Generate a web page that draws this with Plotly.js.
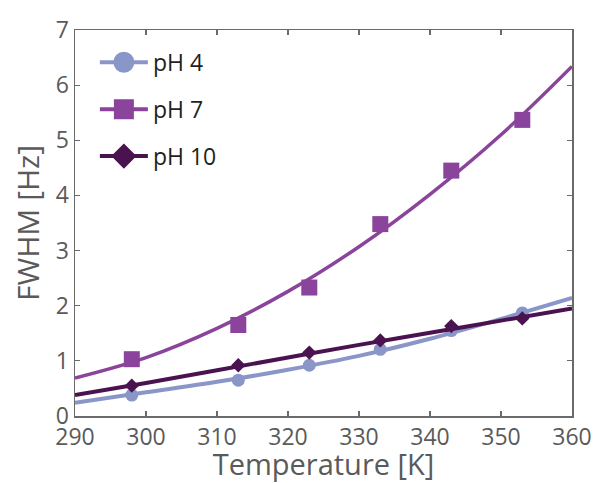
<!DOCTYPE html>
<html>
<head>
<meta charset="utf-8">
<script src="https://cdn.plot.ly/plotly-3.0.1.min.js"></script>
<style>html,body{margin:0;padding:0;background:#fff}#chart{width:601px;height:483px}</style>
</head>
<body>
<div id="chart"></div>
<script>
// Measured points
var tempPts = [298, 313, 323, 333, 343, 353];
var ph4Pts = [0.38, 0.65, 0.92, 1.21, 1.55, 1.87];
var ph7Pts = [1.03, 1.65, 2.33, 3.48, 4.45, 5.37];
var ph10Pts = [0.55, 0.92, 1.15, 1.37, 1.63, 1.77];

// Fit curves
var fitTemp = [290, 300, 310, 320, 330, 340, 350, 360];
var ph4Fit = [0.24, 0.43, 0.62, 0.84, 1.09, 1.40, 1.76, 2.14];
var ph7Fit = [0.69, 1.06, 1.59, 2.26, 3.07, 4.02, 5.10, 6.34];
var ph10Fit = [0.38, 0.60, 0.83, 1.06, 1.29, 1.51, 1.73, 1.95];

var seriesNames = ['pH 4', 'pH 7', 'pH 10'];
var xTicks = [290, 300, 310, 320, 330, 340, 350, 360];
var yTicks = [0, 1, 2, 3, 4, 5, 6, 7];

var c4 = '#8b96c8', c7 = '#8a449c', c10 = '#4b1250';

var traces = [
  {x: fitTemp, y: ph4Fit, mode: 'lines', line: {color: c4, width: 4, shape: 'spline'}, showlegend: false, hoverinfo: 'skip'},
  {x: tempPts, y: ph4Pts, mode: 'markers', marker: {color: c4, size: 13, symbol: 'circle'}, showlegend: false},
  {x: fitTemp, y: ph10Fit, mode: 'lines', line: {color: c10, width: 4, shape: 'spline'}, showlegend: false, hoverinfo: 'skip'},
  {x: tempPts, y: ph10Pts, mode: 'markers', marker: {color: c10, size: 11, symbol: 'diamond'}, showlegend: false},
  {x: fitTemp, y: ph7Fit, mode: 'lines', line: {color: c7, width: 3.5, shape: 'spline'}, showlegend: false, hoverinfo: 'skip'},
  {x: tempPts, y: ph7Pts, mode: 'markers', marker: {color: c7, size: 16, symbol: 'square'}, showlegend: false},
  // legend-only entries
  {x: [null], y: [null], name: seriesNames[0], legendgroup: 'a', mode: 'lines+markers', line: {color: c4, width: 4}, marker: {color: c4, size: 16, symbol: 'circle', line: {color: c4, width: 5}}},
  {x: [null], y: [null], name: seriesNames[1], legendgroup: 'b', mode: 'lines+markers', line: {color: c7, width: 4}, marker: {color: c7, size: 16, symbol: 'square', line: {color: c7, width: 4}}},
  {x: [null], y: [null], name: seriesNames[2], legendgroup: 'c', mode: 'lines+markers', line: {color: c10, width: 4}, marker: {color: c10, size: 15, symbol: 'diamond', line: {color: c10, width: 4}}}
];

var axCommon = {
  showgrid: false, zeroline: false, showline: true, linecolor: '#6a6a6a', linewidth: 1.5,
  ticks: 'inside', ticklen: 5, tickwidth: 1.2, tickcolor: '#6a6a6a', mirror: 'ticks',
  tickfont: {family: 'Open Sans', size: 23, color: '#5a5a5a'}
};

var layout = {
  width: 601, height: 483,
  margin: {l: 75, r: 29, t: 30, b: 67},
  paper_bgcolor: '#fff', plot_bgcolor: '#fff',
  font: {family: 'Open Sans'},
  xaxis: Object.assign({}, axCommon, {
    range: [290, 360], tickvals: xTicks, ticktext: xTicks.map(String),
    title: {text: 'Temperature [K]', font: {family: 'Open Sans', size: 29, color: '#5a5a5a'}, standoff: 5}
  }),
  yaxis: Object.assign({}, axCommon, {
    range: [0, 7], tickvals: yTicks, ticktext: yTicks.map(String),
    title: {text: 'FWHM [Hz]', font: {family: 'Open Sans', size: 30, color: '#5a5a5a'}, standoff: 7}
  }),
  legend: {
    x: 0.04, y: 0.972, xanchor: 'left', yanchor: 'top',
    bgcolor: 'rgba(0,0,0,0)', borderwidth: 0,
    font: {family: 'Open Sans', size: 23, color: '#231f20'},
    itemwidth: 48, itemsizing: 'trace', tracegroupgap: 14
  },
  showlegend: true
};

Plotly.newPlot('chart', traces, layout, {displayModeBar: false, staticPlot: true});
</script>
</body>
</html>
